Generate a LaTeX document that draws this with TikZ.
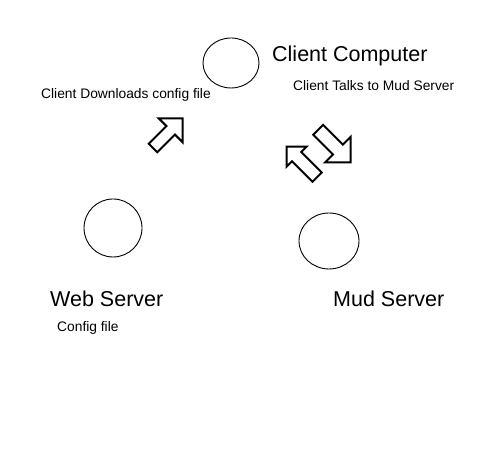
\documentclass[tikz,border=0pt]{standalone}
\usepackage{fontspec}
\setmainfont{Liberation Sans}
\begin{document}
\begin{tikzpicture}[x=1pt,y=1pt,
  big/.style={font=\fontsize{21.5}{24}\selectfont, anchor=base west, inner sep=0pt},
  small/.style={font=\fontsize{13.8}{16}\selectfont, anchor=base west, inner sep=0pt},
  blockarrow/.style={draw=black, line width=2pt, fill=white, line join=miter}]
\fill[white] (0,0) rectangle (498,454);
\useasboundingbox (0,0) rectangle (498,454);
% hosts
\draw[black, line width=0.9pt] (231,391) ellipse [x radius=28, y radius=25];
\node[inner sep=0pt, minimum size=0pt] (client) at (231,391) {};
\draw[black, line width=0.9pt] (113,226) circle [radius=29];
\node[inner sep=0pt, minimum size=0pt] (web) at (113,226) {};
\draw[black, line width=0.9pt] (329,213) ellipse [x radius=30, y radius=28];
\node[inner sep=0pt, minimum size=0pt] (mud) at (329,213) {};
% labels
\node[big] (lclient) at (272,392) {Client Computer};
\node[small] (ltalk) at (293,363) {Client Talks to Mud Server};
\node[small] (ldown) at (41,355) {Client Downloads config file};
\node[big] (lweb) at (50,147) {Web Server};
\node[small] (lcfg) at (57,122) {Config file};
\node[big] (lmud) at (333,147) {Mud Server};
% block arrows: tip at origin, pointing +x
\begin{scope}[shift={(182.7,335.7)}, rotate=45]
\draw[blockarrow] (0,0) -- (-17,17) -- (-17,6) -- (-42,6) -- (-42,-6) -- (-17,-6) -- (-17,-17) -- cycle;
\end{scope}
\begin{scope}[shift={(350.7,291.7)}, rotate=-45]
\draw[blockarrow] (0,0) -- (-18,18) -- (-18,7) -- (-46,7) -- (-46,-7) -- (-18,-7) -- (-18,-18) -- cycle;
\end{scope}
\begin{scope}[shift={(286.7,307.3)}, rotate=135]
\draw[blockarrow] (0,0) -- (-14,14) -- (-14,6.5) -- (-43,6.5) -- (-43,-6.5) -- (-14,-6.5) -- (-14,-14) -- cycle;
\end{scope}
\end{tikzpicture}
\end{document}
